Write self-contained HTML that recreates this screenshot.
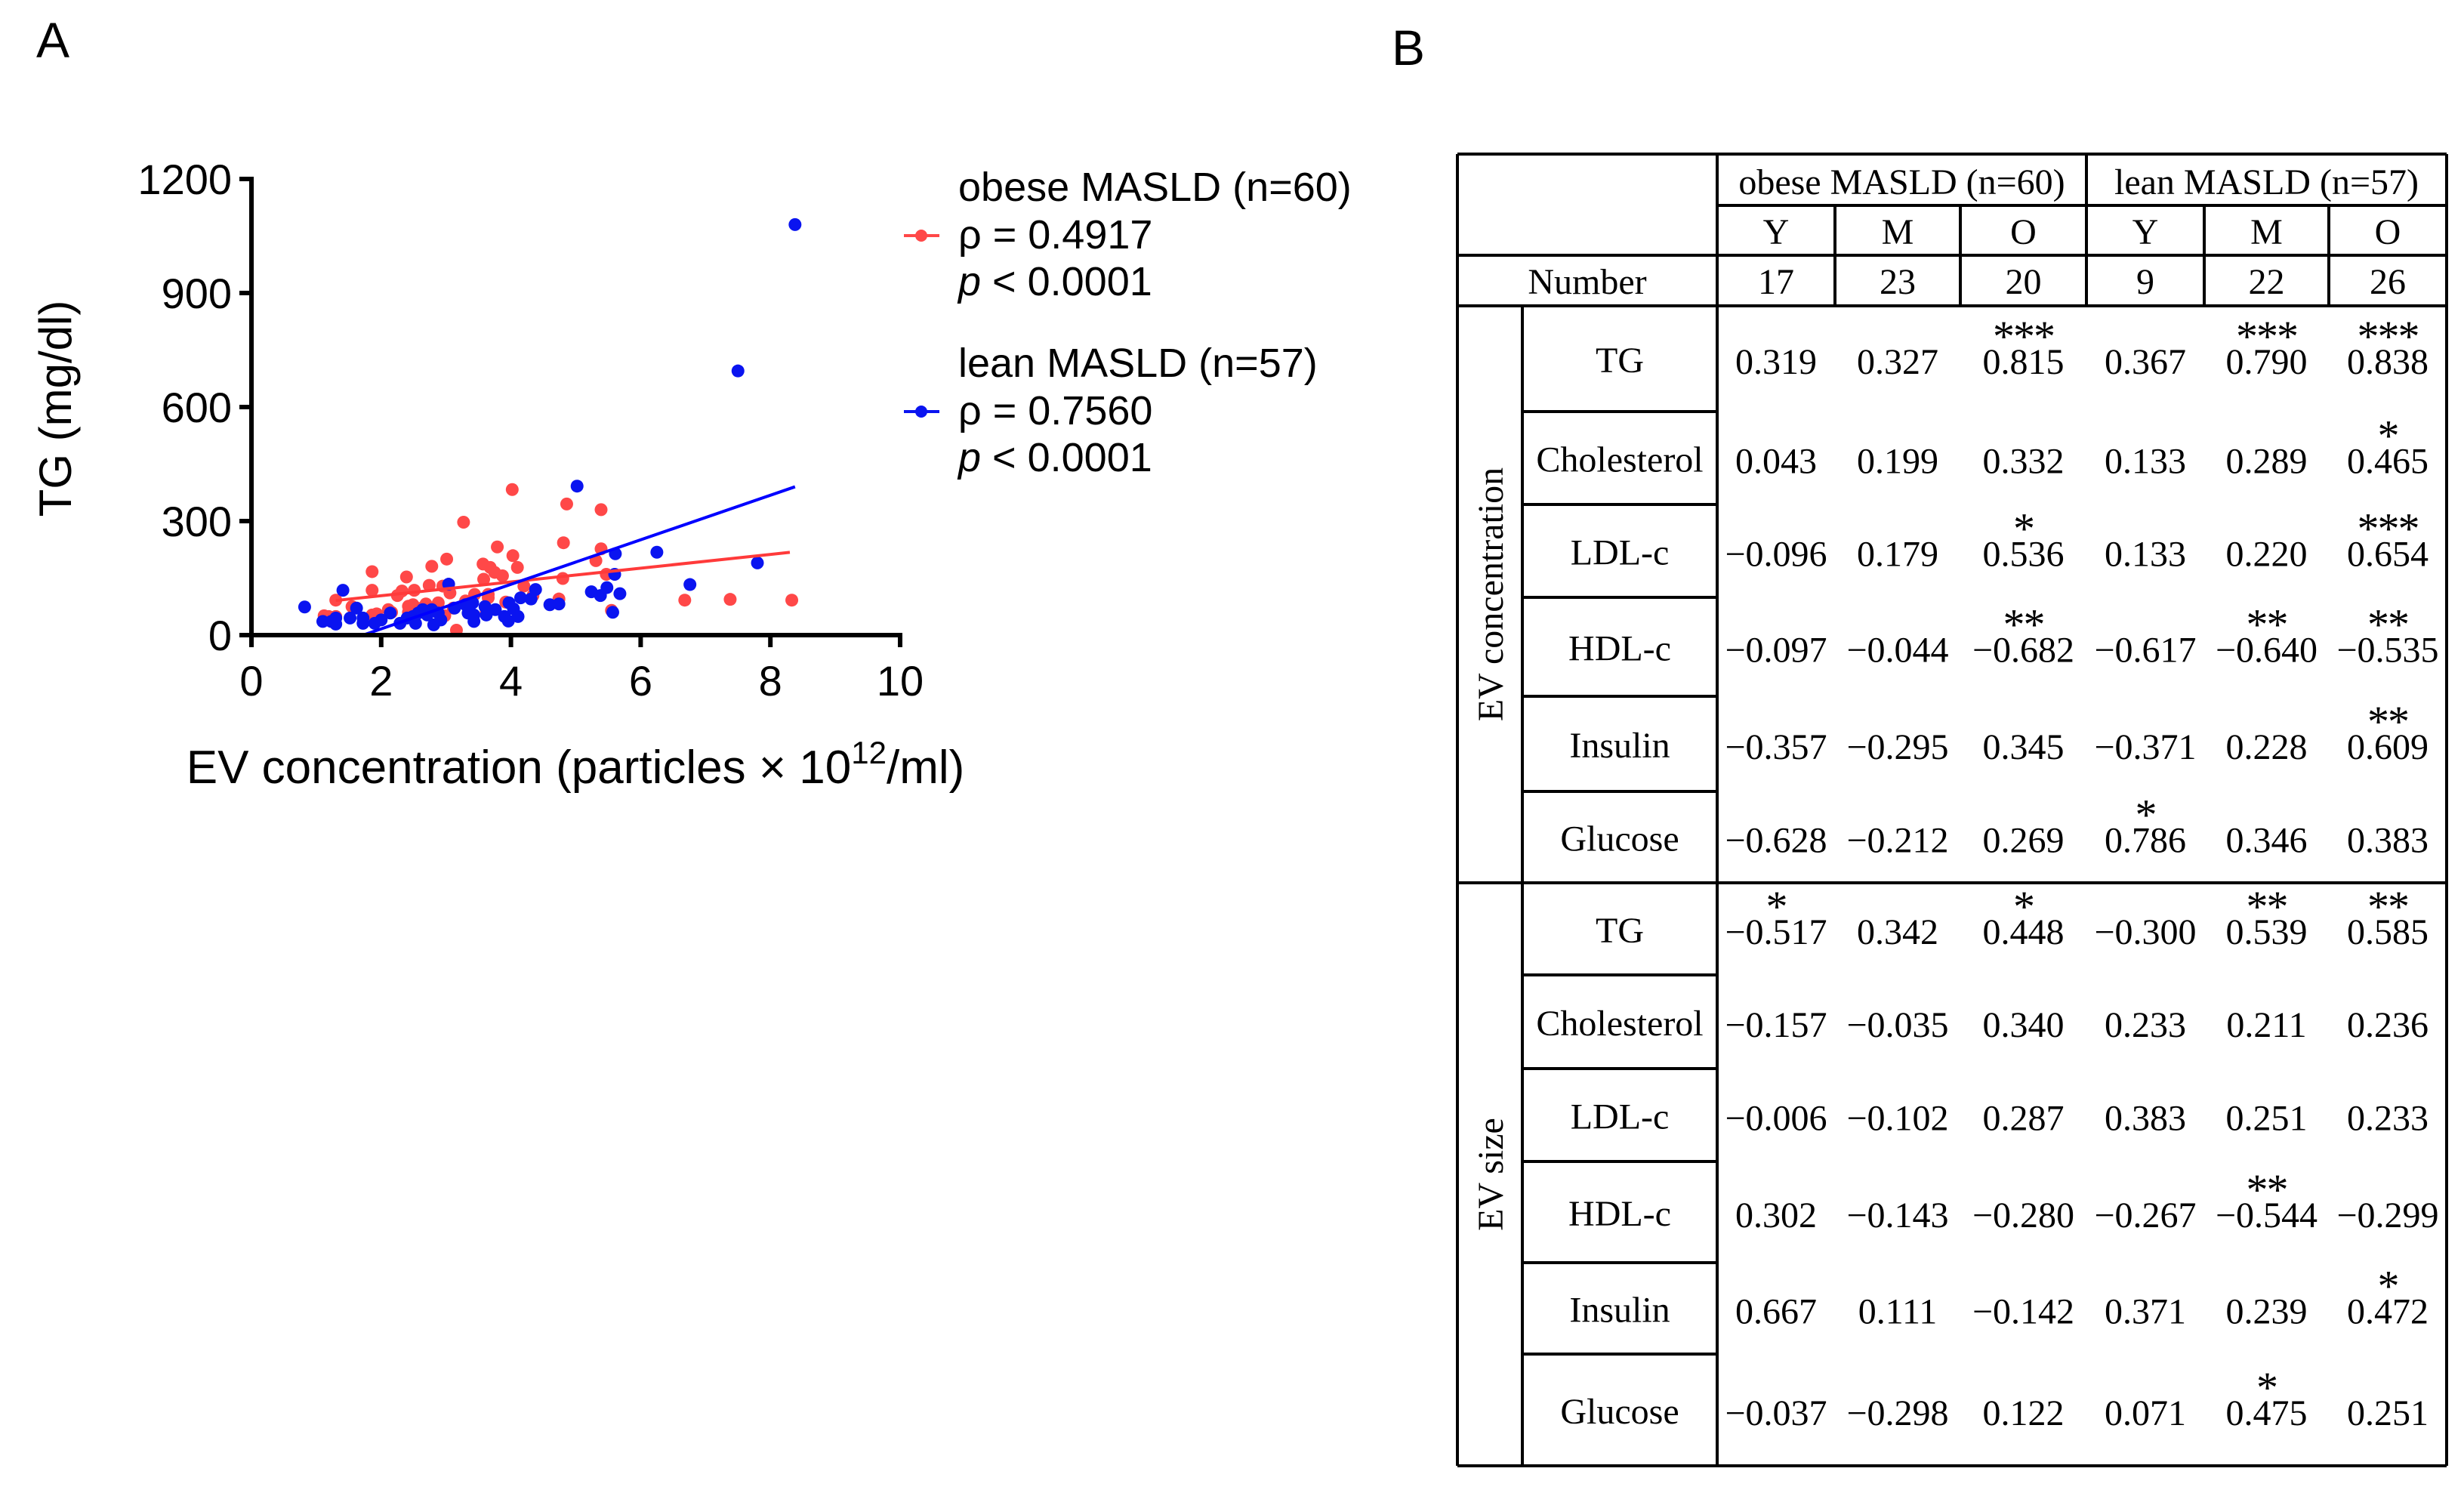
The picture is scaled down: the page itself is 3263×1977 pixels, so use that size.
<!DOCTYPE html>
<html><head><meta charset="utf-8">
<style>
html,body{margin:0;padding:0;background:#fff;}
svg{display:block;}
.sans{font-family:"Liberation Sans",Arial,sans-serif;}
.serif{font-family:"Liberation Serif","Times New Roman",serif;}
</style></head>
<body>
<svg id="fig" width="3263" height="1977" viewBox="0 0 3263 1977" xmlns="http://www.w3.org/2000/svg">
<rect width="3263" height="1977" fill="#fff"/>
<text x="48" y="76" class="sans" font-size="66">A</text>
<text x="1843" y="86" class="sans" font-size="66">B</text>
<g id="chart"></g>
<g id="table"></g>
</svg>
<script>
const obeseX=[4.02,3.27,4.86,5.39,4.81,5.39,5.31,3.79,4.03,4.1,3.01,2.78,3.57,3.68,3.75,3.87,3.58,1.86,2.39,4.8,5.47,4.2,4.34,4.74,5.55,6.68,7.38,8.33,1.86,2.25,2.32,2.51,2.74,2.95,3.06,3.44,3.65,3.65,1.3,1.12,1.19,1.3,1.93,2.11,2.16,2.42,2.46,2.49,2.69,2.88,2.98,3.11,3.16,3.62,3.92,1.86,2.42,2.6,3.3,1.55];
const obeseY=[383,297,345,330,243,227,196,232,209,178,200,181,187,178,165,156,147,167,153,149,160,129,104,95,65,92,94,92,118,104,116,118,131,129,111,107,107,98,92,51,49,49,56,67,60,76,62,80,82,85,51,71,13,62,87,53,60,70,90,75];
const leanX=[8.38,7.5,5.02,6.25,7.8,5.61,5.6,6.76,5.24,5.38,5.48,5.68,5.57,4.6,4.74,4.15,4.31,4.38,4.04,3.9,3.96,3.62,3.43,3.43,3.3,3.34,3.04,2.88,2.81,2.71,2.64,2.53,2.49,1.9,1.72,1.52,1.62,1.41,1.3,1.1,0.82,2.14,2.92,2.78,3.76,3.41,3.97,1.72,1.3,1.23,2.57,2.29,4.11,3.13,2.0,3.6,2.4];
const leanY=[1080,695,392,218,190,214,160,133,114,104,125,109,60,80,82,98,95,120,69,49,37,53,53,36,80,58,134,58,27,53,67,31,49,31,45,45,71,118,29,36,74,58,40,67,67,85,85,31,45,36,58,31,49,71,40,75,45];
const obeseFit=[18.1,67.5];
const obeseFitRange=[1.3,8.3];
const leanFit=[58.6,-100.8];
const leanFitRange=[1.72,8.38];
const xTicks=[0,2,4,6,8,10];
const yTicks=[0,300,600,900,1200];

const NS="http://www.w3.org/2000/svg";
function mk(tag,attrs,parent,txt){const e=document.createElementNS(NS,tag);for(const k in attrs)e.setAttribute(k,attrs[k]);if(txt!==undefined)e.textContent=txt;parent.appendChild(e);return e;}
const X0=333,X1=1192,Y0=841,Y1=237;
const sx=v=>X0+(v-0)/(10-0)*(X1-X0);
const sy=v=>Y0-(v-0)/(1200-0)*(Y0-Y1);
const chart=document.getElementById('chart');

function fitLine(fit,range,color,name){
  const l=mk('line',{x1:sx(range[0]),y1:sy(fit[0]*range[0]+fit[1]),x2:sx(range[1]),y2:sy(fit[0]*range[1]+fit[1]),stroke:color,'stroke-width':4},chart);
  
  
}
function pts(xs,ys,color,name){
  const g=mk('g',{},chart);
  
  
  xs.forEach((x,i)=>{const c=mk('circle',{cx:sx(x),cy:sy(ys[i]),r:8.5,fill:color},g);
    
    });
}
pts(obeseX,obeseY,'#ff4848','obese-series');
pts(leanX,leanY,'#0a14f0','lean-series');
fitLine(obeseFit,obeseFitRange,'#ff3a3a','obese-fit-line');
fitLine(leanFit,leanFitRange,'#0000ff','lean-fit-line');

const ax=mk('g',{},chart);


mk('line',{x1:X0,y1:Y1-3,x2:X0,y2:Y0+3,stroke:'#000','stroke-width':6},ax);
mk('line',{x1:X0-3,y1:Y0,x2:X1+3,y2:Y0,stroke:'#000','stroke-width':6},ax);
xTicks.forEach(t=>{
  mk('line',{x1:sx(t),y1:Y0,x2:sx(t),y2:Y0+16,stroke:'#000','stroke-width':6},ax);
  const tl=mk('text',{x:sx(t),y:Y0+80,'text-anchor':'middle','font-size':56,class:'sans'},ax,String(t));
  
  
});
yTicks.forEach(t=>{
  mk('line',{x1:X0-16,y1:sy(t),x2:X0,y2:sy(t),stroke:'#000','stroke-width':6},ax);
  const tl=mk('text',{x:X0-26,y:sy(t)+20,'text-anchor':'end','font-size':56,class:'sans'},ax,String(t));
  
  
});
const yt=mk('text',{x:0,y:0,transform:'translate(94,541) rotate(-90)','text-anchor':'middle','font-size':60,class:'sans'},chart,'TG (mg/dl)');


const xt=mk('text',{x:762,y:1037,'text-anchor':'middle','font-size':62,class:'sans'},chart);


xt.innerHTML='EV concentration (particles × 10<tspan font-size="42" dy="-26">12</tspan><tspan dy="26">/ml)</tspan>';

function legend(y,color,lines,name){
  const g=mk('g',{},chart);
  
  
  mk('line',{x1:1197,y1:y+46,x2:1244,y2:y+46,stroke:color,'stroke-width':4},g);
  mk('circle',{cx:1220,cy:y+46,r:8,fill:color},g);
  mk('text',{x:1269,y:y,'font-size':54,class:'sans'},g,lines[0]);
  mk('text',{x:1269,y:y+63,'font-size':54,class:'sans'},g,lines[1]);
  const p=mk('text',{x:1269,y:y+125,'font-size':54,class:'sans'},g);
  p.innerHTML='<tspan font-style="italic">p</tspan> &lt; 0.0001';
}
legend(266,'#ff4848',['obese MASLD (n=60)','ρ = 0.4917'],'legend-obese');
legend(499,'#0a14f0',['lean MASLD (n=57)','ρ = 0.7560'],'legend-lean');

// ===== table =====
const rowLabels=['TG','Cholesterol','LDL-c','HDL-c','Insulin','Glucose'];
const groupNames=['obese MASLD (n=60)','lean MASLD (n=57)'];
const subCols=['Y','M','O','Y','M','O'];
const numbers=['17','23','20','9','22','26'];
const concVals=[
['0.319','0.327','0.815','0.367','0.790','0.838'],
['0.043','0.199','0.332','0.133','0.289','0.465'],
['−0.096','0.179','0.536','0.133','0.220','0.654'],
['−0.097','−0.044','−0.682','−0.617','−0.640','−0.535'],
['−0.357','−0.295','0.345','−0.371','0.228','0.609'],
['−0.628','−0.212','0.269','0.786','0.346','0.383']];
const concStars=[
['','','***','','***','***'],
['','','','','','*'],
['','','*','','','***'],
['','','**','','**','**'],
['','','','','','**'],
['','','','*','','']];
const sizeVals=[
['−0.517','0.342','0.448','−0.300','0.539','0.585'],
['−0.157','−0.035','0.340','0.233','0.211','0.236'],
['−0.006','−0.102','0.287','0.383','0.251','0.233'],
['0.302','−0.143','−0.280','−0.267','−0.544','−0.299'],
['0.667','0.111','−0.142','0.371','0.239','0.472'],
['−0.037','−0.298','0.122','0.071','0.475','0.251']];
const sizeStars=[
['*','','*','','**','**'],
['','','','','',''],
['','','','','',''],
['','','','','**',''],
['','','','','','*'],
['','','','','*','']];

const T=document.getElementById('table');
const L=1930,C1=2016,C2=2274,R=3240;
const colX=[2274,2430,2596,2763,2919,3084,3240];
const hY=[204,272,338,405];
const concRows=[405,545,668,791,922,1048,1169];
const sizeRows=[1169,1291,1415,1538,1672,1793,1941];
const sw=4;
function ln(x1,y1,x2,y2){mk('line',{x1,y1,x2,y2,stroke:'#000','stroke-width':sw},T);}
function tx(x,y,s,size,name,extra){const e=mk('text',Object.assign({x,y,'text-anchor':'middle','font-size':size||48,class:'serif'},extra||{}),T,s);
  
  return e;}
ln(L,hY[0],R,hY[0]);ln(L,1941,R,1941);ln(L,hY[0],L,1941);ln(R,hY[0],R,1941);
ln(C2,hY[0],C2,1941);
ln(C2,hY[1],R,hY[1]);ln(L,hY[2],R,hY[2]);ln(L,hY[3],R,hY[3]);
ln(colX[3],hY[0],colX[3],hY[3]);
[1,2,4,5].forEach(i=>ln(colX[i],hY[1],colX[i],hY[3]));
ln(C1,hY[3],C1,1941);
ln(L,1169,R,1169);
concRows.slice(1,-1).forEach(y=>ln(C1,y,C2,y));
sizeRows.slice(1,-1).forEach(y=>ln(C1,y,C2,y));
tx((colX[0]+colX[3])/2,257,groupNames[0],48,'group-header-obese');
tx((colX[3]+colX[6])/2,257,groupNames[1],48,'group-header-lean');
subCols.forEach((s,i)=>tx((colX[i]+colX[i+1])/2,323,s,48,'subgroup-header'));
tx((L+C2)/2,389,'Number',48,'number-row-label');
numbers.forEach((s,i)=>tx((colX[i]+colX[i+1])/2,389,s,48,'number-cell'));
function block(rows,vals,stars,title,name){
  const mid=(rows[0]+rows[rows.length-1])/2;
  tx(0,0,title,48,name+'-title',{transform:`translate(${(L+C1)/2+17},${mid}) rotate(-90)`});
  rowLabels.forEach((lab,r)=>{
    const cy=(rows[r]+rows[r+1])/2;
    tx((C1+C2)/2,cy+18,lab,48,name+'-row-label');
    vals[r].forEach((v,c)=>{
      const x=(colX[c]+colX[c+1])/2;
      tx(x,cy+20,v,48,name+'-value');
      if(stars[r][c])tx(x,cy-10,stars[r][c],58,name+'-significance',{'letter-spacing':'-2'});
    });
  });
}
block(concRows,concVals,concStars,'EV concentration','ev-concentration');
block(sizeRows,sizeVals,sizeStars,'EV size','ev-size');
</script>
</body></html>
